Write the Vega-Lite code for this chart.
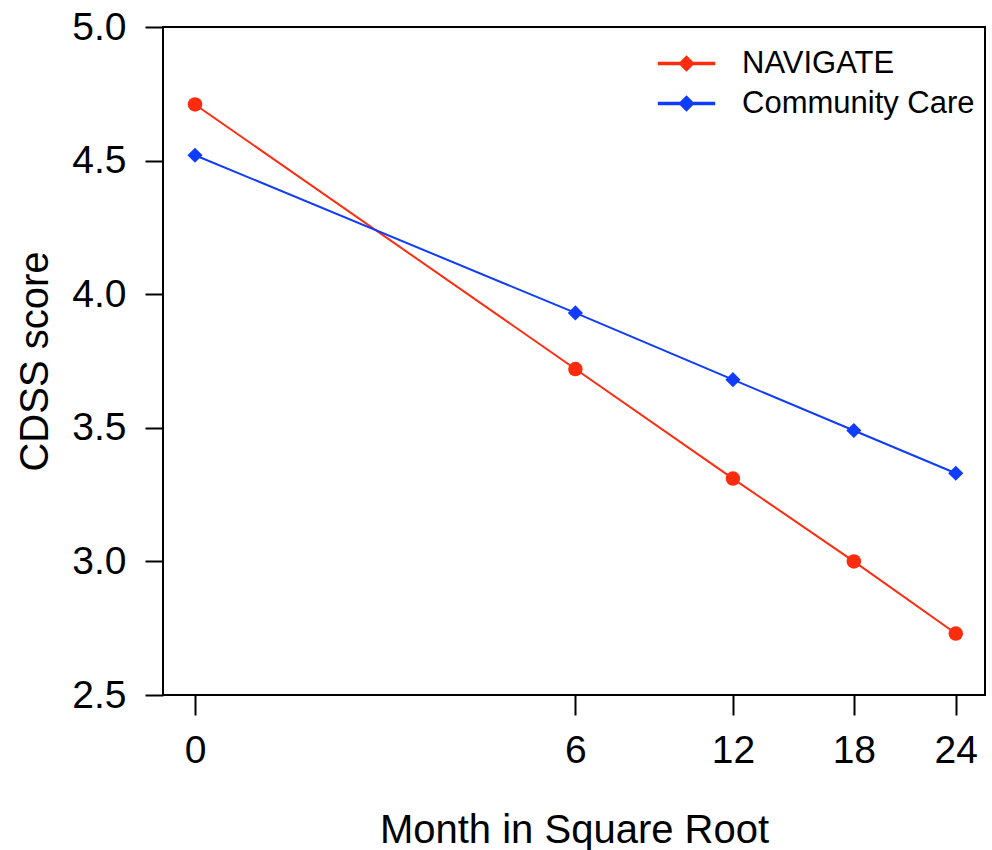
{
  "$schema": "https://vega.github.io/schema/vega-lite/v6.json",
  "autosize": "none",
  "width": 822,
  "height": 668,
  "padding": {"left": 163, "top": 27, "right": 7, "bottom": 155},
  "background": "white",
  "config": {
    "font": "Liberation Sans",
    "view": {"stroke": "black", "strokeWidth": 2},
    "axis": {
      "domain": false,
      "grid": false,
      "ticks": true,
      "tickColor": "black",
      "tickWidth": 2,
      "labelColor": "black",
      "labelFont": "Liberation Sans",
      "labelFontSize": 39,
      "titleFont": "Liberation Sans",
      "titleFontSize": 40,
      "titleFontWeight": "normal",
      "titleColor": "black"
    }
  },
  "data": {
    "values": [
      {"month": 0, "score": 4.71, "series": "NAVIGATE", "marker": "NAVIGATE"},
      {"month": 6, "score": 3.72, "series": "NAVIGATE", "marker": "NAVIGATE"},
      {"month": 12, "score": 3.31, "series": "NAVIGATE", "marker": "NAVIGATE"},
      {"month": 18, "score": 3.0, "series": "NAVIGATE", "marker": "NAVIGATE"},
      {"month": 24, "score": 2.73, "series": "NAVIGATE", "marker": "NAVIGATE"},
      {"month": 0, "score": 4.52, "series": "Community Care", "marker": "Community Care"},
      {"month": 6, "score": 3.93, "series": "Community Care", "marker": "Community Care"},
      {"month": 12, "score": 3.68, "series": "Community Care", "marker": "Community Care"},
      {"month": 18, "score": 3.49, "series": "Community Care", "marker": "Community Care"},
      {"month": 24, "score": 3.33, "series": "Community Care", "marker": "Community Care"}
    ]
  },
  "encoding": {
    "x": {
      "field": "month",
      "type": "quantitative",
      "scale": {"type": "sqrt", "domain": [-0.0425, 25.88], "nice": false, "zero": false},
      "axis": {"values": [0, 6, 12, 18, 24], "tickSize": 20, "labelPadding": 16, "title": "Month in Square Root", "titlePadding": 40, "labelFlush": false}
    },
    "y": {
      "field": "score",
      "type": "quantitative",
      "scale": {"domain": [2.5, 5.0], "nice": false, "zero": false},
      "axis": {"values": [2.5, 3.0, 3.5, 4.0, 4.5, 5.0], "format": ".1f", "tickSize": 18, "labelPadding": 19, "title": "CDSS score", "titlePadding": 16, "labelFlush": false}
    },
    "color": {
      "field": "series",
      "type": "nominal",
      "scale": {"domain": ["NAVIGATE", "Community Care"], "range": ["#fe2c0e", "#0f3cfd"]},
      "legend": {
        "title": null,
        "orient": "none",
        "legendX": 508,
        "legendY": 21,
        "padding": 0,
        "labelOffset": 40,
        "labelLimit": 500,
        "symbolSize": 169,
        "rowPadding": 8,
        "labelFontSize": 31,
        "labelFont": "Liberation Sans",
        "labelColor": "black",
        "encode": {
          "symbols": {
            "update": {
              "shape": {
                "condition": {"test": "datum.value === 'NAVIGATE' || datum.label === 'NAVIGATE' || (datum.datum && datum.datum.value === 'NAVIGATE')", "value": "M-4.3,-0.16L4.3,-0.16L4.3,0.16L-4.3,0.16ZM-1,0A1,1,0,1,0,1,0A1,1,0,1,0,-1,0Z"},
                "value": "M-4.3,-0.16L4.3,-0.16L4.3,0.16L-4.3,0.16ZM-1.1,0L0,-1.1L1.1,0L0,1.1Z"
              },
              "opacity": {"value": 1}
            }
          }
        }
      }
    }
  },
  "layer": [
    {"mark": {"type": "line", "strokeWidth": 2}},
    {
      "mark": {"type": "point", "filled": true, "opacity": 1},
      "encoding": {
        "shape": {
          "field": "marker",
          "type": "nominal",
          "scale": {"domain": ["Community Care", "NAVIGATE"], "range": ["diamond", "circle"]},
          "legend": null
        },
        "size": {
          "field": "marker",
          "type": "nominal",
          "scale": {"domain": ["Community Care", "NAVIGATE"], "range": [230, 210]},
          "legend": null
        }
      }
    }
  ]
}
